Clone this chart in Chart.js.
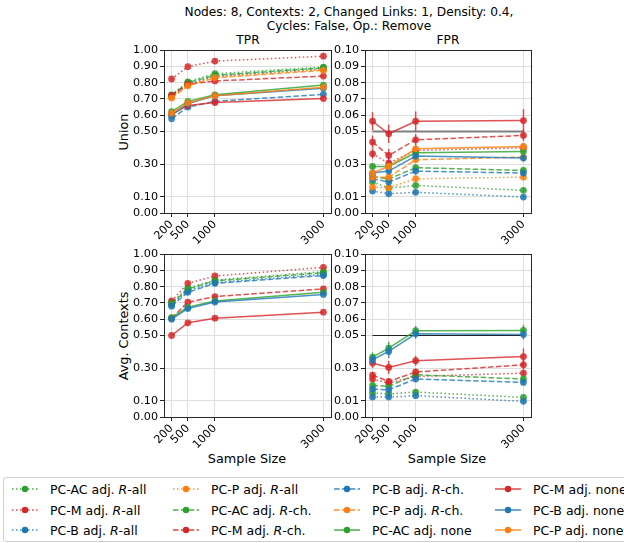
<!DOCTYPE html>
<html>
<head>
<meta charset="utf-8">
<script src="https://cdn.jsdelivr.net/npm/chart.js"></script>
<style>
  body { margin: 0; background: #fff; font-family: "DejaVu Sans", sans-serif; color: #000; }
  #fig { position: relative; width: 624px; height: 543px; overflow: hidden; }
  #fig canvas { position: absolute; }
  .txt { position: absolute; font-size: 12.2px; white-space: nowrap; transform: translate(-50%, -50%); }
  .lab { font-size: 12.8px; }
  .rot { transform: translate(-50%, -50%) rotate(-90deg); }
  #legend { position: absolute; left: 3px; top: 477px; width: 660px; height: 65px;
            border: 1px solid #d0d0d0; border-radius: 3px; box-sizing: border-box; }
  .item { position: absolute; font-size: 12.5px; white-space: nowrap; display: flex; align-items: center; }
  .item svg { margin-right: 12px; }
</style>
</head>
<body>
<div id="fig">
  <div class="txt" style="left:349px; top:12px;">Nodes: 8, Contexts: 2, Changed Links: 1, Density: 0.4,</div>
  <div class="txt" style="left:349px; top:26px;">Cycles: False, Op.: Remove</div>
  <div class="txt" style="left:248px; top:40px;">TPR</div>
  <div class="txt" style="left:448px; top:40px;">FPR</div>
  <div class="txt lab rot" style="left:123px; top:132px;">Union</div>
  <div class="txt lab rot" style="left:123px; top:336px;">Avg. Contexts</div>
  <div class="txt lab" style="left:247px; top:458px;">Sample Size</div>
  <div class="txt lab" style="left:447px; top:458px;">Sample Size</div>
  <div id="legend"></div>
</div>
<script>
// x values shared by every panel
const sampleSizes = [200, 500, 1000, 3000];

// series, in legend order
const seriesNames = [
    'PC-AC adj. <i>R</i>-all', 'PC-M adj. <i>R</i>-all', 'PC-B adj. <i>R</i>-all',
    'PC-P adj. <i>R</i>-all', 'PC-AC adj. <i>R</i>-ch.', 'PC-M adj. <i>R</i>-ch.',
    'PC-B adj. <i>R</i>-ch.', 'PC-P adj. <i>R</i>-ch.', 'PC-AC adj. none',
    'PC-M adj. none', 'PC-B adj. none', 'PC-P adj. none'
];
const seriesColors = ['#2ca02c', '#d62728', '#1f77b4', '#ff7f0e',
                      '#2ca02c', '#d62728', '#1f77b4', '#ff7f0e',
                      '#2ca02c', '#d62728', '#1f77b4', '#ff7f0e'];
const seriesStyle = ['dot', 'dot', 'dot', 'dot', 'dash', 'dash', 'dash', 'dash',
                     'solid', 'solid', 'solid', 'solid'];

const tprTicks = [0, 0.1, 0.3, 0.5, 0.6, 0.7, 0.8, 0.9, 1.0];
const fprTicks = [0, 0.01, 0.03, 0.05, 0.06, 0.07, 0.08, 0.09, 0.1];
const fprLevel = 0.05;

// Union row
const unionTPR = [
    [0.725, 0.805, 0.855, 0.895],
    [0.822, 0.898, 0.932, 0.962],
    [0.715, 0.790, 0.840, 0.885],
    [0.710, 0.785, 0.835, 0.880],
    [0.720, 0.800, 0.845, 0.890],
    [0.722, 0.790, 0.810, 0.840],
    [0.578, 0.650, 0.685, 0.728],
    [0.705, 0.780, 0.830, 0.875],
    [0.622, 0.685, 0.725, 0.785],
    [0.605, 0.660, 0.678, 0.702],
    [0.600, 0.670, 0.720, 0.765],
    [0.612, 0.675, 0.720, 0.772]
];
const unionFPR = [
    [0.0190, 0.0153, 0.0169, 0.0139],
    [0.0363, 0.0306, 0.0384, 0.0400],
    [0.0135, 0.0118, 0.0127, 0.0098],
    [0.0159, 0.0155, 0.0210, 0.0220],
    [0.0224, 0.0208, 0.0278, 0.0261],
    [0.0435, 0.0353, 0.0449, 0.0476],
    [0.0210, 0.0190, 0.0257, 0.0245],
    [0.0220, 0.0220, 0.0327, 0.0343],
    [0.0286, 0.0286, 0.0369, 0.0378],
    [0.0563, 0.0486, 0.0563, 0.0567],
    [0.0245, 0.0257, 0.0349, 0.0337],
    [0.0245, 0.0286, 0.0394, 0.0408]
];
const unionFPRErr = [
    [0.0015, 0.0012, 0.0012, 0.0010],
    [0.0030, 0.0030, 0.0030, 0.0030],
    [0.0010, 0.0010, 0.0010, 0.0010],
    [0.0015, 0.0015, 0.0015, 0.0015],
    [0.0020, 0.0020, 0.0020, 0.0020],
    [0.0040, 0.0040, 0.0035, 0.0035],
    [0.0020, 0.0020, 0.0020, 0.0020],
    [0.0020, 0.0020, 0.0020, 0.0020],
    [0.0020, 0.0020, 0.0020, 0.0020],
    [0.0056, 0.0056, 0.0060, 0.0070],
    [0.0020, 0.0020, 0.0020, 0.0020],
    [0.0020, 0.0020, 0.0020, 0.0020]
];

// Avg. Contexts row (no PC-P results)
const contextsTPR = [
    [0.702, 0.790, 0.840, 0.892],
    [0.712, 0.820, 0.865, 0.918],
    [0.690, 0.775, 0.825, 0.875],
    null,
    [0.695, 0.785, 0.835, 0.885],
    [0.606, 0.704, 0.739, 0.786],
    [0.680, 0.765, 0.820, 0.868],
    null,
    [0.610, 0.673, 0.712, 0.765],
    [0.500, 0.578, 0.606, 0.643],
    [0.600, 0.665, 0.705, 0.752],
    null
];
const contextsFPR = [
    [0.0147, 0.0141, 0.0153, 0.0120],
    [0.0233, 0.0208, 0.0249, 0.0269],
    [0.0122, 0.0122, 0.0131, 0.0096],
    null,
    [0.0194, 0.0188, 0.0259, 0.0233],
    [0.0257, 0.0218, 0.0276, 0.0320],
    [0.0171, 0.0167, 0.0233, 0.0212],
    null,
    [0.0367, 0.0422, 0.0529, 0.0531],
    [0.0331, 0.0304, 0.0345, 0.0371],
    [0.0351, 0.0402, 0.0510, 0.0506],
    null
];
const contextsFPRErr = [
    [0.0012, 0.0012, 0.0012, 0.0010],
    [0.0015, 0.0015, 0.0015, 0.0015],
    [0.0010, 0.0010, 0.0010, 0.0010],
    null,
    [0.0015, 0.0015, 0.0015, 0.0015],
    [0.0020, 0.0020, 0.0020, 0.0030],
    [0.0015, 0.0015, 0.0015, 0.0015],
    null,
    [0.0030, 0.0040, 0.0030, 0.0035],
    [0.0030, 0.0040, 0.0030, 0.0050],
    [0.0030, 0.0040, 0.0030, 0.0030],
    null
];

const font = { family: 'DejaVu Sans', size: 11.2 };
const ink = '#262626';

function dashFor(style)
{
    if (style === 'dot') return [1.5, 2.5];
    if (style === 'dash') return [5.5, 2.4];
    return [];
}

function alpha(hex, a)
{
    const n = parseInt(hex.slice(1), 16);
    return 'rgba(' + (n >> 16) + ',' + ((n >> 8) & 255) + ',' + (n & 255) + ',' + a + ')';
}

// frame on all four sides, like matplotlib spines
const framePlugin = {
    id: 'frame',
    afterDraw(chart)
    {
        const a = chart.chartArea, ctx = chart.ctx;
        ctx.save();
        ctx.strokeStyle = ink;
        ctx.lineWidth = 1;
        ctx.strokeRect(Math.round(a.left) + 0.5, Math.round(a.top) + 0.5,
                       Math.round(a.right - a.left), Math.round(a.bottom - a.top));
        ctx.restore();
    }
};

// vertical error bars drawn right after their own line
const errorPlugin = {
    id: 'errbars',
    afterDatasetDraw(chart, args)
    {
        const ds = chart.data.datasets[args.index];
        if (!ds.errors) return;
        const y = chart.scales.y, ctx = chart.ctx;
        ctx.save();
        ctx.strokeStyle = ds.borderColor;
        ctx.lineWidth = 1.5;
        args.meta.data.forEach(function(pt, j)
        {
            const v = ds.data[j].y, e = ds.errors[j];
            ctx.beginPath();
            ctx.moveTo(pt.x, y.getPixelForValue(v - e));
            ctx.lineTo(pt.x, y.getPixelForValue(v + e));
            ctx.stroke();
        });
        ctx.restore();
    }
};

function makePanel(left, top, width, height, values, errors, yTicks, yMax, refLine)
{
    const padTop = 10, padRight = 10, yw = 50, xh = 45;
    const cv = document.createElement('canvas');
    cv.width = width + yw + padRight;
    cv.height = height + padTop + xh;
    cv.style.left = (left - yw) + 'px';
    cv.style.top = (top - padTop) + 'px';
    document.getElementById('fig').appendChild(cv);

    const datasets = [];
    if (refLine)
    {
        datasets.push({
            data: sampleSizes.map(x => ({ x: x, y: fprLevel })),
            borderColor: refLine.color,
            borderWidth: refLine.width,
            pointRadius: 0,
            order: 100
        });
    }
    values.forEach(function(vals, i)
    {
        if (!vals) return;
        datasets.push({
            data: sampleSizes.map((x, j) => ({ x: x, y: vals[j] })),
            errors: errors ? errors[i] : null,
            borderColor: alpha(seriesColors[i], 0.8),
            backgroundColor: alpha(seriesColors[i], 0.85),
            borderWidth: 1.5,
            borderDash: dashFor(seriesStyle[i]),
            pointRadius: 3.4,
            pointBorderWidth: 0,
            tension: 0,
            order: 12 - i
        });
    });

    new Chart(cv.getContext('2d'),
    {
        type: 'line',
        data: { datasets: datasets },
        plugins: [framePlugin, errorPlugin],
        options:
        {
            responsive: false,
            animation: false,
            devicePixelRatio: 1,
            layout: { padding: { top: padTop, right: padRight, left: 0, bottom: 0 } },
            plugins: { legend: { display: false }, tooltip: { enabled: false } },
            scales:
            {
                x:
                {
                    type: 'linear',
                    min: 60,
                    max: 3140,
                    afterBuildTicks: s => { s.ticks = sampleSizes.map(v => ({ value: v })); },
                    afterFit: s => { s.height = xh; },
                    ticks: { font: font, color: '#000', minRotation: 45, maxRotation: 45,
                             autoSkip: false, padding: 1, callback: v => String(v) },
                    grid: { color: '#dedede', tickColor: ink, tickLength: 4 },
                    border: { color: ink }
                },
                y:
                {
                    min: 0,
                    max: yMax,
                    afterBuildTicks: s => { s.ticks = yTicks.map(v => ({ value: v })); },
                    afterFit: s => { s.width = yw; },
                    ticks: { font: font, color: '#000', padding: 2, callback: v => v.toFixed(2) },
                    grid: { color: '#dedede', tickColor: ink, tickLength: 4 },
                    border: { color: ink }
                }
            }
        }
    });
}

function buildLegend()
{
    const box = document.getElementById('legend');
    const colX = [8, 169, 330, 491];
    const rowY = [11, 32, 52];
    seriesNames.forEach(function(name, i)
    {
        const col = Math.floor(i / 3), row = i % 3;
        const dash = dashFor(seriesStyle[i]).join(' ');
        const el = document.createElement('div');
        el.className = 'item';
        el.style.left = colX[col] + 'px';
        el.style.top = (rowY[row] - 8) + 'px';
        el.innerHTML =
            '<svg width="26" height="16"><line x1="0" y1="8" x2="26" y2="8" stroke="' +
            seriesColors[i] + '" stroke-opacity="0.85" stroke-width="1.5" stroke-dasharray="' + dash +
            '"/><circle cx="13" cy="8" r="3.2" fill="' + seriesColors[i] + '"/></svg>' +
            '<span>' + name + '</span>';
        box.appendChild(el);
    });
}

makePanel(164, 50, 167, 163, unionTPR, null, tprTicks, 1.0, null);
makePanel(365, 50, 166, 163, unionFPR, unionFPRErr, fprTicks, 0.1, { color: '#808080', width: 2 });
makePanel(164, 254, 167, 163, contextsTPR, null, tprTicks, 1.0, null);
makePanel(365, 254, 166, 163, contextsFPR, contextsFPRErr, fprTicks, 0.1, { color: '#222', width: 1.2 });
buildLegend();
</script>
</body>
</html>
